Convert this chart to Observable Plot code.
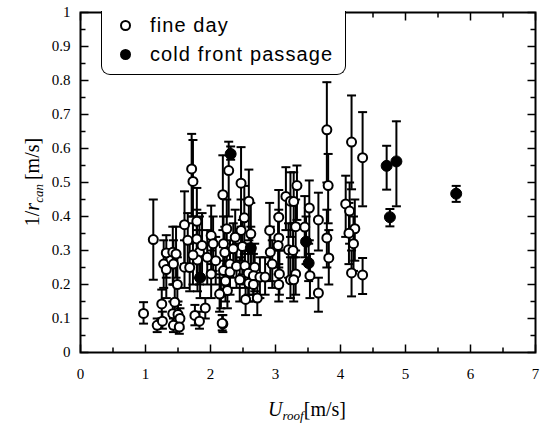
<!DOCTYPE html>
<html><head><meta charset="utf-8">
<script src="https://cdn.jsdelivr.net/npm/d3@7"></script>
<script src="https://cdn.jsdelivr.net/npm/@observablehq/plot@0.6"></script>
<style>
body{margin:0;background:#fff;}
#wrap{position:relative;width:542px;height:424px;}
#wrap svg, #wrap svg text{font-family:"Liberation Serif","Times New Roman",serif !important;}
#wrap svg g[aria-label$="tick label"] text{fill:#000;}
.legend{position:absolute;left:101px;top:11px;width:243px;height:63px;border:1.5px solid #000;border-top:none;border-radius:0 0 9px 9px;font-family:"Liberation Sans",Arial,sans-serif;font-size:20px;letter-spacing:1.1px;background:#fff;}
.legend .row{position:absolute;left:0;height:24px;line-height:24px;}
.legend .mk{position:absolute;left:18px;top:7px;width:7px;height:7px;border:2px solid #000;border-radius:50%;box-sizing:content-box;}
.legend .mk.f{background:#000;}
.legend .lb{position:absolute;left:48px;top:0;white-space:nowrap;}
</style></head>
<body><div id="wrap"></div>
<script>
// fine day
const fineX = [0.97,1.12,1.18,1.25,1.26,1.28,1.32,1.32,1.42,1.43,1.42,1.43,1.45,1.47,1.49,1.50,1.53,1.52,1.60,1.60,
  1.71,1.73,1.76,1.83,1.92,1.79,1.79,1.83,1.80,1.73,1.87,2.01,2.01,2.04,2.19,2.16,2.20,2.22,2.20,2.23,
  2.19,2.28,2.47,2.59,2.52,2.47,2.25,2.38,2.62,2.35,2.49,2.30,2.30,2.40,2.53,2.68,2.58,2.45,2.59,2.66,
  2.76,2.84,2.66,2.92,2.91,3.05,3.05,3.04,3.20,3.16,3.23,3.06,3.05,3.23,2.26,2.14,2.54,2.18,3.79,4.17,
  4.34,3.81,3.33,3.28,3.52,3.66,3.45,3.79,3.82,4.08,4.14,4.22,4.13,4.20,4.17,4.34,3.53,3.66,3.31,3.28,
  3.31,3.27,2.08,1.95,1.65,1.68,2.72,2.95];
const fineY = [0.115,0.332,0.080,0.143,0.092,0.260,0.244,0.293,0.295,0.260,0.114,0.080,0.148,0.290,0.200,0.112,0.100,0.075,0.376,0.251,
  0.540,0.503,0.109,0.092,0.131,0.386,0.334,0.295,0.272,0.287,0.315,0.231,0.344,0.320,0.084,0.174,0.320,0.294,0.241,0.210,
  0.464,0.535,0.498,0.445,0.396,0.359,0.364,0.339,0.349,0.305,0.312,0.260,0.237,0.254,0.255,0.251,0.233,0.214,0.204,0.226,
  0.222,0.222,0.200,0.295,0.359,0.398,0.337,0.315,0.302,0.459,0.445,0.231,0.200,0.214,0.182,0.172,0.156,0.086,0.655,0.619,
  0.573,0.491,0.491,0.444,0.425,0.390,0.369,0.337,0.278,0.437,0.416,0.364,0.351,0.320,0.234,0.228,0.226,0.175,0.231,0.214,
  0.370,0.300,0.270,0.280,0.330,0.250,0.160,0.260];
const fineLo = [0.085,0.214,0.060,0.100,0.070,0.190,0.160,0.220,0.200,0.200,0.080,0.060,0.110,0.220,0.140,0.080,0.070,0.055,0.260,0.190,
  0.400,0.400,0.080,0.070,0.100,0.290,0.220,0.200,0.180,0.200,0.220,0.160,0.260,0.240,0.060,0.130,0.240,0.200,0.180,0.150,
  0.360,0.400,0.370,0.330,0.290,0.270,0.260,0.250,0.260,0.220,0.230,0.190,0.170,0.190,0.190,0.180,0.170,0.150,0.150,0.170,
  0.160,0.170,0.150,0.210,0.260,0.300,0.250,0.230,0.220,0.360,0.340,0.170,0.150,0.160,0.130,0.120,0.110,0.065,0.500,0.480,
  0.430,0.380,0.390,0.360,0.330,0.300,0.280,0.250,0.200,0.340,0.320,0.270,0.260,0.240,0.165,0.172,0.160,0.120,0.170,0.150,
  0.280,0.220,0.200,0.200,0.250,0.180,0.110,0.190];
const fineHi = [0.148,0.450,0.100,0.185,0.120,0.330,0.300,0.345,0.370,0.330,0.150,0.100,0.200,0.370,0.280,0.150,0.130,0.095,0.474,0.330,
  0.643,0.625,0.140,0.120,0.160,0.484,0.420,0.400,0.360,0.380,0.410,0.300,0.432,0.400,0.110,0.220,0.400,0.370,0.310,0.270,
  0.580,0.620,0.604,0.538,0.490,0.450,0.450,0.420,0.440,0.380,0.390,0.330,0.300,0.320,0.320,0.320,0.300,0.280,0.260,0.290,
  0.280,0.280,0.250,0.370,0.440,0.478,0.420,0.400,0.380,0.545,0.530,0.300,0.260,0.280,0.240,0.230,0.200,0.110,0.795,0.756,
  0.707,0.584,0.550,0.530,0.506,0.470,0.460,0.420,0.360,0.520,0.500,0.450,0.440,0.400,0.300,0.278,0.290,0.220,0.300,0.280,
  0.450,0.380,0.340,0.360,0.410,0.320,0.210,0.330];
// cold front passage
const coldX  = [2.31,2.62,3.47,3.51,4.71,4.86,4.76,5.78,1.84];
const coldY  = [0.584,0.307,0.326,0.263,0.549,0.562,0.398,0.467,0.220];
const coldLo = [0.567,0.250,0.260,0.210,0.479,0.430,0.371,0.443,0.160];
const coldHi = [0.606,0.370,0.400,0.320,0.608,0.680,0.422,0.490,0.280];
// ticks
const xTicks = [0,1,2,3,4,5,6,7];
const xMinor = [0.5,1.5,2.5,3.5,4.5,5.5,6.5];
const yTicks = [0,0.1,0.2,0.3,0.4,0.5,0.6,0.7,0.8,0.9,1];
const yMinor = [0.05,0.15,0.25,0.35,0.45,0.55,0.65,0.75,0.85,0.95];

const fine = fineX.map((x,i)=>({x, y:fineY[i], lo:fineLo[i], hi:fineHi[i]}));
const cold = coldX.map((x,i)=>({x, y:coldY[i], lo:coldLo[i], hi:coldHi[i]}));
const all = fine.concat(cold);

const seg = (x1,y1,x2,y2)=>({draw(ctx){ctx.moveTo(x1,y1);ctx.lineTo(x2,y2);}});
const cap = seg(-4.5,0,4.5,0);
const tk = {stroke:"#000", fill:"none", strokeWidth:1.5};

const plot = Plot.plot({
  width:542, height:424,
  marginLeft:80, marginRight:7, marginTop:12, marginBottom:72,
  x:{domain:[0,7]}, y:{domain:[0,1]},
  style:{fontSize:"15px", color:"#000", background:"#fff", overflow:"visible"},
  marks:[
    Plot.ruleX(all, {x:"x", y1:"lo", y2:"hi", stroke:"#000", strokeWidth:2}),
    Plot.dot(all, {x:"x", y:"lo", symbol:cap, stroke:"#000", fill:"none", strokeWidth:2}),
    Plot.dot(all, {x:"x", y:"hi", symbol:cap, stroke:"#000", fill:"none", strokeWidth:2}),
    Plot.dot(fine, {x:"x", y:"y", r:4.5, fill:"#fff", stroke:"#000", strokeWidth:2}),
    Plot.dot(cold, {x:"x", y:"y", r:5.5, fill:"#000", stroke:"#000", strokeWidth:1}),
    // inward ticks
    Plot.dot(xTicks, {x:d=>d, frameAnchor:"bottom", symbol:seg(0,0,0,-8), ...tk}),
    Plot.dot(xMinor, {x:d=>d, frameAnchor:"bottom", symbol:seg(0,0,0,-5), ...tk}),
    Plot.dot(xTicks, {x:d=>d, frameAnchor:"top", symbol:seg(0,0,0,8), ...tk}),
    Plot.dot(xMinor, {x:d=>d, frameAnchor:"top", symbol:seg(0,0,0,5), ...tk}),
    Plot.dot(yTicks, {y:d=>d, frameAnchor:"left", symbol:seg(0,0,8,0), ...tk}),
    Plot.dot(yMinor, {y:d=>d, frameAnchor:"left", symbol:seg(0,0,5,0), ...tk}),
    Plot.dot(yTicks, {y:d=>d, frameAnchor:"right", symbol:seg(0,0,-8,0), ...tk}),
    Plot.dot(yMinor, {y:d=>d, frameAnchor:"right", symbol:seg(0,0,-5,0), ...tk}),
    Plot.frame({stroke:"#000", strokeWidth:2}),
    Plot.axisX({ticks:xTicks, tickSize:0, tickPadding:16, label:null, tickFormat:d=>String(d), fill:"#000"}),
    Plot.axisY({ticks:yTicks, tickSize:0, tickPadding:10, label:null, tickFormat:d=>String(d), fill:"#000"})
  ]
});

const svg = d3.select(plot);
const yl = svg.append("text")
  .attr("transform","translate(39,182) rotate(-90)")
  .attr("text-anchor","middle")
  .style("font-size","20px").attr("fill","#000");
yl.append("tspan").text("1/");
yl.append("tspan").style("font-style","italic").text("r");
yl.append("tspan").style("font-style","italic").style("font-size","13px").attr("dy","4").text("can");
yl.append("tspan").attr("dy","-4").text("\u2009[m/s]");

const xl = svg.append("text")
  .attr("x",307).attr("y",416)
  .attr("text-anchor","middle")
  .style("font-size","20px").attr("fill","#000");
xl.append("tspan").style("font-style","italic").text("U");
xl.append("tspan").style("font-style","italic").style("font-size","13px").attr("dy","4").text("roof");
xl.append("tspan").attr("dy","-4").text("[m/s]");

const wrap = document.getElementById("wrap");
wrap.appendChild(plot);
const lg = document.createElement("div");
lg.className = "legend";
lg.innerHTML = '<div class="row" style="top:2px"><span class="mk"></span><span class="lb">fine day</span></div>'+
               '<div class="row" style="top:31px"><span class="mk f"></span><span class="lb">cold front passage</span></div>';
wrap.appendChild(lg);
</script></body></html>
